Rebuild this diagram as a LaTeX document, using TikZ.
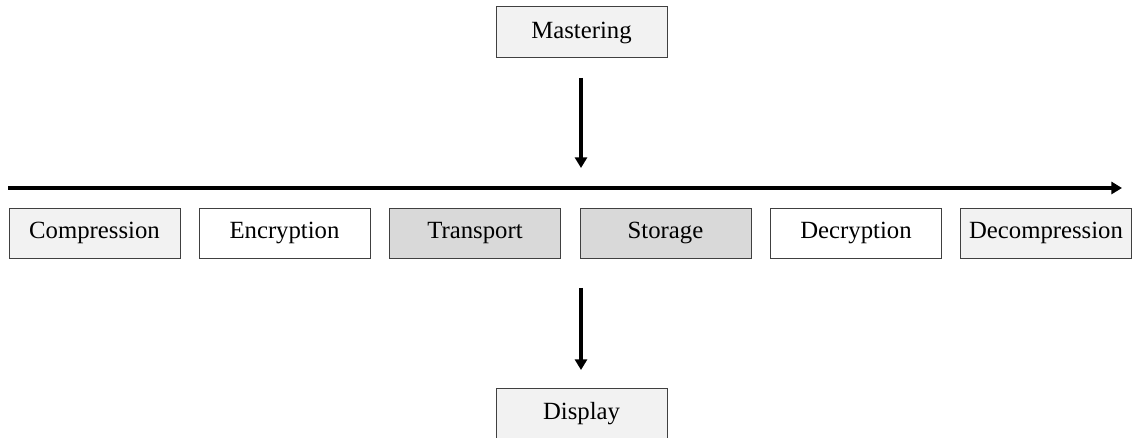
\documentclass[tikz,border=0pt]{standalone}
\usepackage{fontspec}
\setmainfont{Liberation Serif}
\usepackage{tikz}
\usetikzlibrary{arrows.meta,positioning}

\definecolor{boxline}{HTML}{404040}
\definecolor{lightfill}{HTML}{F2F2F2}
\definecolor{midfill}{HTML}{D9D9D9}

\begin{document}
\begin{tikzpicture}[
  stage/.style={rectangle,draw=boxline,line width=0.7pt,
                minimum width=4.275cm,minimum height=1.25cm,
                inner sep=0pt,font=\fontsize{17.6}{21}\selectfont},
  flow/.style={line width=2.2pt,-{Triangle[length=7.5pt,width=8.5pt]}},
]
  \useasboundingbox (0,0) rectangle (28.325,10.95);

  % stages of the chain
  \node[stage,fill=lightfill] (comp)   at (2.3625,5.125)  {Compression};
  \node[stage,fill=white]     (encr)   at (7.1125,5.125)  {Encryption};
  \node[stage,fill=midfill]   (trans)  at (11.875,5.125)  {Transport};
  \node[stage,fill=midfill]   (stor)   at (16.6375,5.125) {Storage};
  \node[stage,fill=white]     (decr)   at (21.4,5.125)    {Decryption};
  \node[stage,fill=lightfill] (decomp) at (26.15,5.125)   {Decompression};

  \node[stage,fill=lightfill,minimum height=1.275cm] (mast) at (14.5375,10.1375) {Mastering};
  \node[stage,fill=lightfill,minimum height=1.275cm] (disp) at (14.5375,0.6125)  {Display};

  % arrow ends
  \coordinate (tl) at (0.2,6.25);
  \coordinate (tr) at (28.05,6.25);
  \coordinate (m1) at (14.525,9.0);
  \coordinate (m2) at (14.525,6.75);
  \coordinate (d1) at (14.525,3.75);
  \coordinate (d2) at (14.525,1.7);

  \draw[flow] (tl) -- (tr);
  \draw[flow] (m1) -- (m2);
  \draw[flow] (d1) -- (d2);
\end{tikzpicture}
\end{document}
